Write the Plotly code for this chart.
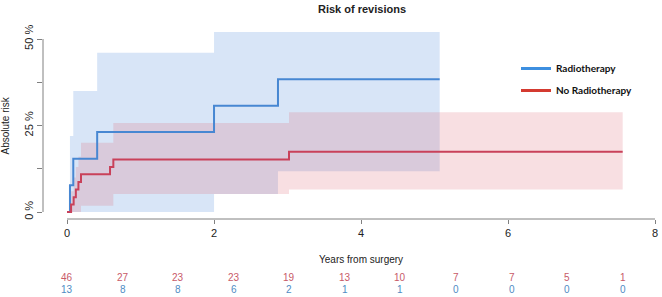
import plotly.graph_objects as go

# ---- data ----
rt_time = [0, 0.04, 0.085, 0.41, 2.0, 2.87, 5.07]
rt_risk = [0, 0.077, 0.154, 0.231, 0.307, 0.384, 0.384]
rt_upper = [0, 0.22, 0.35, 0.46, 0.52, 0.52, 0.52]
rt_lower = [0, 0, 0, 0, 0.052, 0.118, 0.118]

nrt_time = [0, 0.055, 0.09, 0.12, 0.155, 0.19, 0.585, 0.63, 3.02, 7.56]
nrt_risk = [0, 0.022, 0.043, 0.065, 0.087, 0.109, 0.130, 0.152, 0.174, 0.174]
nrt_upper = [0, 0.06, 0.10, 0.13, 0.16, 0.20, 0.20, 0.257, 0.288, 0.288]
nrt_lower = [0, 0, 0, 0, 0, 0.018, 0.018, 0.052, 0.065, 0.065]

risk_times = [0, 0.756, 1.512, 2.268, 3.024, 3.78, 4.536, 5.292, 6.048, 6.804, 7.56]
n_nrt = [46, 27, 23, 23, 19, 13, 10, 7, 7, 5, 1]
n_rt = [13, 8, 8, 6, 2, 1, 1, 0, 0, 0, 0]

x_ticks = [0, 2, 4, 6, 8]
y_ticks = [0, 0.125, 0.25, 0.375, 0.5]
y_ticktext = ["0 %", "", "25 %", "", "50 %"]

BLUE = "#4787d2"
RED = "#c9415a"
BLUE_FILL = "rgba(100,150,225,0.25)"
RED_FILL = "rgba(225,110,125,0.22)"
FONT = "Liberation Sans, Arial, sans-serif"

fig = go.Figure()

# confidence bands
fig.add_trace(go.Scatter(x=rt_time, y=rt_lower, mode="lines", line=dict(width=0, shape="hv"),
                         showlegend=False, hoverinfo="skip"))
fig.add_trace(go.Scatter(x=rt_time, y=rt_upper, mode="lines", line=dict(width=0, shape="hv"),
                         fill="tonexty", fillcolor=BLUE_FILL, showlegend=False, hoverinfo="skip"))
fig.add_trace(go.Scatter(x=nrt_time, y=nrt_lower, mode="lines", line=dict(width=0, shape="hv"),
                         showlegend=False, hoverinfo="skip"))
fig.add_trace(go.Scatter(x=nrt_time, y=nrt_upper, mode="lines", line=dict(width=0, shape="hv"),
                         fill="tonexty", fillcolor=RED_FILL, showlegend=False, hoverinfo="skip"))

# step curves
fig.add_trace(go.Scatter(x=rt_time, y=rt_risk, mode="lines", line=dict(color=BLUE, width=2, shape="hv"),
                         showlegend=False))
fig.add_trace(go.Scatter(x=nrt_time, y=nrt_risk, mode="lines", line=dict(color=RED, width=2, shape="hv"),
                         showlegend=False))

# legend entries
fig.add_trace(go.Scatter(x=[None], y=[None], mode="lines", line=dict(color="#3d8fe0", width=3),
                         name="<b>Radiotherapy</b>", legendgroup="a"))
fig.add_trace(go.Scatter(x=[None], y=[None], mode="lines", line=dict(color="#d43a30", width=3),
                         name="<b>No Radiotherapy</b>", legendgroup="b"))

# numbers at risk
for t, a, b in zip(risk_times, n_nrt, n_rt):
    fig.add_annotation(text=str(a), xref="x", yref="paper", x=t, y=(219 - 277.7) / 187,
                       showarrow=False, yanchor="middle",
                       font=dict(size=10, color="#c85a68", family=FONT))
    fig.add_annotation(text=str(b), xref="x", yref="paper", x=t, y=(219 - 289) / 187,
                       showarrow=False, yanchor="middle",
                       font=dict(size=10, color="#4f8cc4", family=FONT))

# R-style axis lines
fig.add_shape(type="line", xref="x", yref="paper", x0=x_ticks[0], x1=x_ticks[-1], y0=0, y1=0,
              line=dict(color="#808080", width=1))
fig.add_shape(type="line", xref="paper", yref="y", x0=0, x1=0, y0=y_ticks[0], y1=y_ticks[-1],
              line=dict(color="#808080", width=1))

fig.add_annotation(text="Years from surgery", xref="x", yref="paper", x=4, y=-0.214,
                   showarrow=False, font=dict(size=10, color="#222", family=FONT), yanchor="middle")
fig.add_annotation(text="Absolute risk", xref="paper", yref="y", x=-43 / 619, xshift=6, y=0.25,
                   textangle=-90, showarrow=False, font=dict(size=10, color="#222", family=FONT),
                   xanchor="center", yanchor="middle")

fig.update_layout(
    width=662, height=297,
    margin=dict(l=43, r=0, t=32, b=78),
    paper_bgcolor="white", plot_bgcolor="white",
    font=dict(family=FONT, size=11, color="#222"),
    title=dict(text="<b>Risk of revisions</b>", x=(362 - 43) / 619, xref="paper", xanchor="center",
               y=1 - 9 / 297, yref="container", yanchor="middle", font=dict(size=11, color="#222")),
    xaxis=dict(range=[-0.327, -0.327 + 619 / 73.5], tickvals=x_ticks, ticks="outside", ticklen=4,
               tickcolor="#808080", showgrid=False, zeroline=False, showline=False,
               tickfont=dict(size=11, color="#222")),
    yaxis=dict(range=[-0.0202, -0.0202 + 187 / 346], tickvals=y_ticks, ticktext=y_ticktext,
               ticks="outside", ticklen=5, tickcolor="#808080", tickangle=-90, showgrid=False,
               zeroline=False, showline=False, tickfont=dict(size=11, color="#222")),
    legend=dict(x=(516 - 43) / 619, y=(219 - 54) / 187, xanchor="left", yanchor="top",
                traceorder="grouped",
                bgcolor="rgba(0,0,0,0)", font=dict(size=10, color="#111", family="Lato, sans-serif"),
                tracegroupgap=3),
)

fig.write_html("out.html")
